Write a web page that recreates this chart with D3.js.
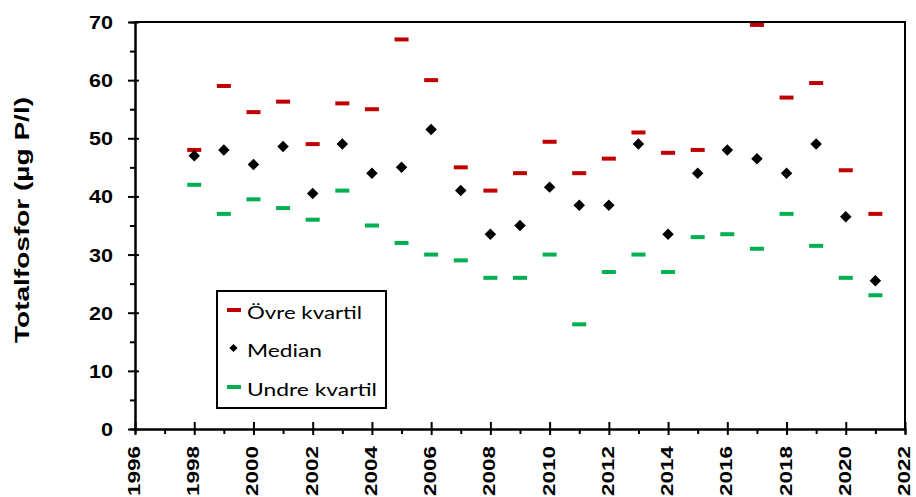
<!DOCTYPE html>
<html>
<head>
<meta charset="utf-8">
<script src="https://cdn.jsdelivr.net/npm/d3@7"></script>
<style>
  html, body { margin: 0; padding: 0; background: #fff; }
  svg { display: block; }
</style>
</head>
<body>
<svg id="chart" width="916" height="497"></svg>
<script>
// Total phosphorus per year: upper quartile, median, lower quartile (µg P/l)
const years = [1998, 1999, 2000, 2001, 2002, 2003, 2004, 2005, 2006, 2007, 2008, 2009,
               2010, 2011, 2012, 2013, 2014, 2015, 2016, 2017, 2018, 2019, 2020, 2021];
const upperQuartile = [48, 59, 54.5, 56.3, 49, 56, 55, 67, 60, 45, 41, 44,
                       49.4, 44, 46.5, 51, 47.5, 48, null, 69.5, 57, 59.5, 44.5, 37];
const median = [47, 48, 45.5, 48.6, 40.5, 49, 44, 45, 51.5, 41, 33.5, 35,
                41.6, 38.5, 38.5, 49, 33.5, 44, 48, 46.5, 44, 49, 36.5, 25.5];
const lowerQuartile = [42, 37, 39.5, 38, 36, 41, 35, 32, 30, 29, 26, 26,
                       30, 18, 27, 30, 27, 33, 33.5, 31, 37, 31.5, 26, 23];
const yTicks = [0, 10, 20, 30, 40, 50, 60, 70];
const xTicks = [1996, 1998, 2000, 2002, 2004, 2006, 2008, 2010, 2012, 2014, 2016, 2018, 2020, 2022];
const yTitle = "Totalfosfor (µg P/l)";
const legendLabels = ["Övre kvartil", "Median", "Undre kvartil"];

const RED = "#C00000", GREEN = "#00B050";
const svg = d3.select("#chart");
const plotLeft = 135, plotRight = 905, plotTop = 22, plotBottom = 429;

const x = d3.scaleLinear().domain([1996, 2022]).range([plotLeft, plotRight]);
const y = d3.scaleLinear().domain([0, 70]).range([plotBottom, plotTop]);

// Frame: top and right borders
svg.append("path")
  .attr("d", `M${plotLeft},${plotTop}H${plotRight}V${plotBottom}`)
  .attr("fill", "none").attr("stroke", "#000").attr("stroke-width", 2);

// Y axis
const yMinor = d3.range(5, 70, 10);
const gyMinor = svg.append("g").attr("transform", `translate(${plotLeft},0)`)
  .call(d3.axisLeft(y).tickValues(yMinor).tickSize(5).tickFormat(""));
const gy = svg.append("g").attr("transform", `translate(${plotLeft},0)`)
  .call(d3.axisLeft(y).tickValues(yTicks).tickSize(7).tickSizeOuter(0).tickPadding(15));
gy.selectAll(".tick").append("line").attr("x1", 0).attr("x2", 4);
gy.selectAll(".tick text")
  .attr("font-family", "'Liberation Sans', Arial, sans-serif")
  .attr("font-weight", "bold").attr("font-size", 18).attr("fill", "#000")
  .attr("dy", "0.36em")
  .attr("textLength", d => String(d).length * 12)
  .attr("lengthAdjust", "spacingAndGlyphs");

// X axis
const xMinor = d3.range(1997, 2022, 2);
const gxMinor = svg.append("g").attr("transform", `translate(0,${plotBottom})`)
  .call(d3.axisBottom(x).tickValues(xMinor).tickSize(5).tickFormat(""));
const gx = svg.append("g").attr("transform", `translate(0,${plotBottom})`)
  .call(d3.axisBottom(x).tickValues(xTicks).tickSize(6).tickSizeOuter(0).tickFormat(""));
gx.selectAll(".tick").append("line").attr("y1", 0).attr("y2", -7);
[gy, gx, gyMinor, gxMinor].forEach(g => {
  g.selectAll("line").attr("stroke", "#000").attr("stroke-width", 2);
  g.select(".domain").attr("stroke", "#000").attr("stroke-width", 2);
});

svg.append("g").selectAll("text").data(xTicks).join("text")
  .attr("transform", d => `translate(${x(d) + 5},${plotBottom + 17}) rotate(-90)`)
  .attr("text-anchor", "end")
  .attr("font-family", "'Liberation Sans', Arial, sans-serif")
  .attr("font-weight", "bold").attr("font-size", 17).attr("fill", "#000")
  .attr("textLength", 50).attr("lengthAdjust", "spacingAndGlyphs")
  .text(d => d);

// Y axis title
svg.append("text")
  .attr("transform", "translate(28.5,220) rotate(-90)")
  .attr("text-anchor", "middle")
  .attr("font-family", "'Liberation Sans', Arial, sans-serif")
  .attr("font-weight", "bold").attr("font-size", 21).attr("fill", "#000")
  .attr("textLength", 246).attr("lengthAdjust", "spacingAndGlyphs")
  .text(yTitle);

// Marks
const dashW = 14, dashH = 4;
function dashes(values, color) {
  svg.append("g").selectAll("rect")
    .data(years.map((yr, i) => ({ yr, v: values[i] })).filter(d => d.v != null))
    .join("rect")
    .attr("x", d => x(d.yr) - dashW / 2)
    .attr("y", d => y(d.v) - dashH / 2)
    .attr("width", dashW).attr("height", dashH)
    .attr("fill", color);
}
dashes(upperQuartile, RED);
dashes(lowerQuartile, GREEN);

const diamond = d3.symbol().type(d3.symbolSquare).size(66);
svg.append("g").selectAll("path")
  .data(years.map((yr, i) => ({ yr, v: median[i] })))
  .join("path")
  .attr("d", diamond)
  .attr("transform", d => `translate(${x(d.yr)},${y(d.v)}) rotate(45)`)
  .attr("fill", "#000");

// Legend
const lg = svg.append("g");
lg.append("rect").attr("x", 217).attr("y", 291).attr("width", 169).attr("height", 117)
  .attr("fill", "#fff").attr("stroke", "#000").attr("stroke-width", 2);
const rowY = [310, 348, 387];
const textW = [115, 75, 130];
lg.append("rect").attr("x", 227).attr("y", rowY[0] - 2).attr("width", 14).attr("height", 4).attr("fill", RED);
lg.append("path").attr("d", d3.symbol().type(d3.symbolSquare).size(34))
  .attr("transform", `translate(233.5,${rowY[1]}) rotate(45)`).attr("fill", "#000");
lg.append("rect").attr("x", 227).attr("y", rowY[2] - 2).attr("width", 14).attr("height", 4).attr("fill", GREEN);
lg.selectAll("text").data(legendLabels).join("text")
  .attr("x", 247).attr("y", (d, i) => rowY[i] + 8.5)
  .attr("font-family", "Lato, 'Open Sans', sans-serif")
  .attr("font-size", 18).attr("fill", "#000")
  .attr("textLength", (d, i) => textW[i]).attr("lengthAdjust", "spacingAndGlyphs")
  .text(d => d);
</script>
</body>
</html>
